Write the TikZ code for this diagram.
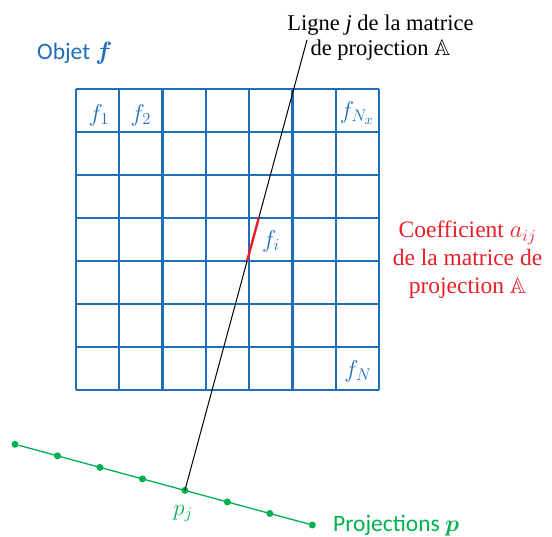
\documentclass[tikz,border=0pt]{standalone}
\usepackage{amsmath,amssymb}
\usepackage{graphicx}
\usepackage{fontspec}
\setmainfont{Liberation Serif}
\newfontfamily\calib{Carlito}
\usetikzlibrary{calc}
\newcommand\msc[2][1.3]{\scalebox{#1}{\fontsize{17.28}{20}\selectfont$#2$}}
\definecolor{gblue}{RGB}{30,110,185}
\definecolor{ggreen}{RGB}{0,176,80}
\definecolor{gred}{RGB}{235,30,40}
\tikzset{
  gridline/.style={draw=gblue, line width=2.3pt},
  cell/.style={text=gblue, inner sep=0pt},
  pdot/.style={circle, fill=ggreen, inner sep=0pt, minimum size=7pt},
  projline/.style={draw=ggreen, line width=1.3pt},
  rayline/.style={draw=black, line width=1pt},
  serifnote/.style={inner sep=0pt, align=center, font=\fontsize{22.5}{25.5}\selectfont},
  rednote/.style={inner sep=0pt, align=center, text=gred, font=\fontsize{23.5}{28}\selectfont},
  sansnote/.style={inner sep=0pt, font=\calib\fontsize{23.5}{27}\selectfont}
}
\begin{document}
\begin{tikzpicture}[x=1pt,y=-1pt]
\useasboundingbox (0,0) rectangle (552,537);
% grid
\foreach \i in {0,...,7} {
  \draw[gridline] ({76+\i*43.2857},89) -- ({76+\i*43.2857},390);
  \draw[gridline] (76,{89+\i*43}) -- (379,{89+\i*43});
}
% cell labels
\node[cell] (f1) at (99,115) {\msc[1.4]{f_1}};
\node[cell] (f2) at (141,115) {\msc[1.4]{f_2}};
\node[cell] (fNx) at (357,113) {\msc[1.4]{f_{N_x}}};
\node[cell] (fi) at (271,241) {\msc[1.4]{f_i}};
\node[cell] (fN) at (358,371) {\msc[1.4]{f_N}};
% projections
\foreach \k in {0,...,7} {
  \node[pdot] (p\k) at ({15+\k*42.4714},{444.3+\k*11.5286}) {};
}
\draw[projline] (p0) -- (p7);
% ray
\coordinate (ltop) at (307,40);
\draw[rayline] (ltop) -- (p4.center);
\draw[draw=gred, line width=2.4pt] ($(p4.center)!0.5096!(ltop)$) -- ($(p4.center)!0.6057!(ltop)$);
% texts
\node[serifnote] (ligne) at (380.5,37.5) {Ligne \textit{j} de la matrice\\de projection \msc[1.3]{\mathbb{A}}};
\node[rednote] (coef) at (467.5,260) {Coefficient \msc[1.4]{a_{ij}}\\de la matrice de\\projection \msc[1.3]{\mathbb{A}}};
\node[sansnote, text=gblue, anchor=base west] (objet) at (37,60) {Objet \msc[1.45]{\boldsymbol{f}}};
\node[sansnote, text=ggreen, anchor=base west] (proj) at (333,531.5) {Projections \msc[1.35]{\boldsymbol{p}}};
\node[cell, text=ggreen, anchor=base] (pj) at (183,515) {\msc[1.35]{p_j}};
\end{tikzpicture}
\end{document}
